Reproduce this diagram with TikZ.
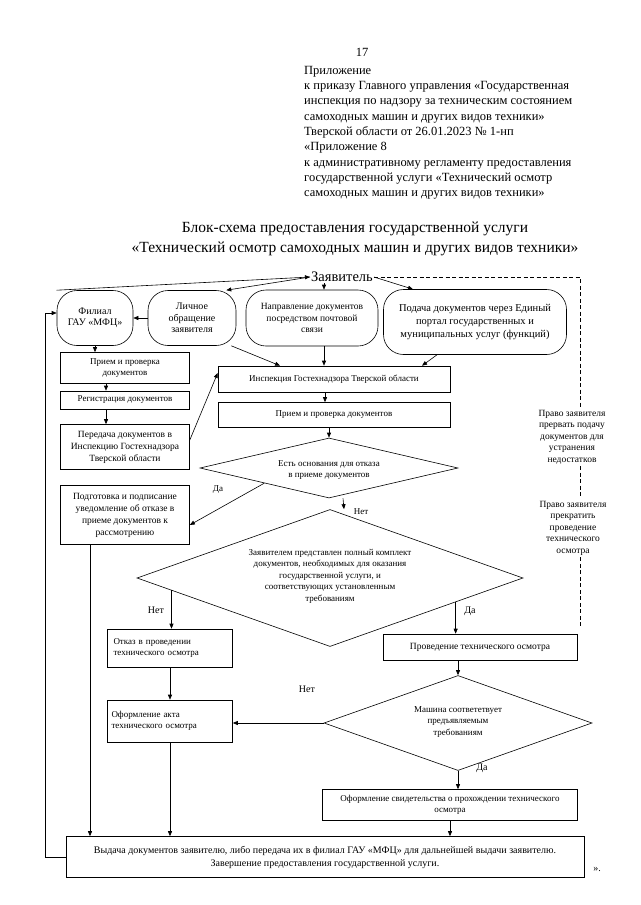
\documentclass[tikz,border=0pt]{standalone}
\usepackage{fontspec}
\setmainfont{Liberation Serif}
\usetikzlibrary{arrows.meta}
\usetikzlibrary{shapes.geometric}
\usetikzlibrary{calc}

\begin{document}
\begin{tikzpicture}
        [x=1pt, y=-1pt,
        box/.style = {draw, rectangle, line width=0.6pt, inner sep=1pt, align=center, font=\fontsize{9}{11}\selectfont},
        oval/.style = {draw, rectangle, rounded corners=20pt, line width=0.6pt, inner sep=1pt, align=center, font=\fontsize{9.5}{11.5}\selectfont},
        cond/.style = {draw, diamond, line width=0.6pt, inner sep=0pt},
        txt/.style = {align=center, inner sep=1pt, font=\fontsize{9}{11.5}\selectfont},
        side/.style = {align=center, inner sep=2pt, font=\fontsize{9.5}{11.5}\selectfont},
        lines/.style = {line width=0.6pt, -{Triangle[length=5pt, width=4pt]}},
        quit/.style = {line width=0.6pt, dash pattern=on 4pt off 2.5pt}]
        \useasboundingbox (0,0) rectangle (640,905);

        % header
        \node[font=\fontsize{12.5}{15}\selectfont] (pagenum) at (362,52) {17};
        \node[anchor=north west, align=left, inner sep=0pt, font=\fontsize{12.5}{15.3}\selectfont] (hdr) at (304,66)
            {Приложение\\к приказу Главного управления «Государственная\\инспекция по надзору за техническим состоянием\\самоходных машин и других видов техники»\\Тверской области от 26.01.2023 № 1-нп\\«Приложение 8\\к административному регламенту предоставления\\государственной услуги «Технический осмотр\\самоходных машин и других видов техники»};
        \node[align=center, font=\fontsize{15.5}{20}\selectfont] (title) at (355,239)
            {Блок-схема предоставления государственной услуги\\«Технический осмотр самоходных машин и других видов техники»};

        \node[inner sep=1pt, font=\fontsize{14.5}{16}\selectfont] (zayav) at (342,277) {Заявитель};

        % top row
        \node[oval, minimum width=76pt, minimum height=55pt, font=\fontsize{10}{11.5}\selectfont] (fil) at (95,318) {Филиал\\ГАУ «МФЦ»};
        \node[oval, minimum width=88pt, minimum height=55pt, font=\fontsize{10}{11.5}\selectfont] (lich) at (192,318) {Личное\\обращение\\заявителя};
        \node[oval, minimum width=132pt, minimum height=56pt] (pocht) at (312,318) {Направление документов\\посредством почтовой\\связи};
        \node[oval, minimum width=183pt, minimum height=65pt, font=\fontsize{10.5}{13}\selectfont] (epgu) at (475,322) {Подача документов через Единый\\портал государственных и\\муниципальных услуг (функций)};

        % left column
        \node[box, minimum width=129pt, minimum height=31pt] (priemL) at (125,368) {Прием и проверка\\документов};
        \node[box, minimum width=129pt, minimum height=18pt] (reg) at (125,400) {Регистрация документов};
        \node[box, minimum width=129pt, minimum height=45pt, font=\fontsize{9.5}{12}\selectfont] (pered) at (125,447) {Передача документов в\\Инспекцию Гостехнадзора\\Тверской области};
        \node[box, minimum width=129pt, minimum height=59pt, font=\fontsize{9.5}{12}\selectfont] (podg) at (125,515) {Подготовка и подписание\\уведомление об отказе в\\приеме документов к\\рассмотрению};

        % middle column
        \node[box, minimum width=232pt, minimum height=26pt] (insp) at (334,379) {Инспекция Гостехнадзора Тверской области};
        \node[box, minimum width=232pt, minimum height=25pt] (priemC) at (334,415) {Прием и проверка документов};
        \node[cond, minimum width=258pt, minimum height=60pt] (q1) at (329,468) {};
        \node[txt] (q1t) at (329,470) {Есть основания для отказа\\в приеме документов};
        \node[cond, minimum width=386pt, minimum height=137pt] (q2) at (330,578) {};
        \node[txt] (q2t) at (330,576) {Заявителем представлен полный комплект\\документов, необходимых для оказания\\государственной услуги, и\\соответствующих установленным\\требованиям};

        \node[box, align=left, text width=113pt, inner xsep=6pt, minimum height=38pt] (otkaz) at (170,648) {Отказ в проведении\\технического осмотра};
        \node[box, minimum width=194pt, minimum height=26pt, font=\fontsize{9.5}{11.5}\selectfont] (provod) at (480,647) {Проведение технического осмотра};
        \node[cond, minimum width=268pt, minimum height=95pt] (q3) at (458,723) {};
        \node[txt] (q3t) at (458,722) {Машина соответетвует\\предъявляемым\\требованиям};
        \node[box, align=left, text width=117pt, inner xsep=4pt, minimum height=42pt] (akt) at (170,721) {Оформление акта\\технического осмотра};
        \node[box, minimum width=255pt, minimum height=31pt] (svid) at (450,805) {Оформление свидетельства о прохождении технического\\осмотра};
        \node[box, minimum width=518pt, minimum height=41pt, font=\fontsize{10}{13}\selectfont] (vyd) at (325,857) {Выдача документов заявителю, либо передача их в филиал ГАУ «МФЦ» для дальнейшей выдачи заявителю.\\Завершение предоставления государственной услуги.};
        \node[inner sep=0pt, font=\fontsize{10}{12}\selectfont] (endq) at (597,869) {».};

        % right side
        \node[side] (pravo1) at (572,437) {Право заявителя\\прервать подачу\\документов для\\устранения\\недостатков};
        \node[side] (pravo2) at (573,528) {Право заявителя\\прекратить\\проведение\\технического\\осмотра};
        \coordinate (dtop) at (580,277);
        \coordinate (dend) at (580,627);

        % labels
        \node[txt] (yes1) at (218,490) {Да};
        \node[txt] (no1) at (361,512) {Нет};
        \node[txt, font=\fontsize{10}{12}\selectfont] (no2) at (156,610) {Нет};
        \node[txt, font=\fontsize{10}{12}\selectfont] (yes2) at (470,611) {Да};
        \node[txt, font=\fontsize{10}{12}\selectfont] (no3) at (307,689) {Нет};
        \node[txt, font=\fontsize{10}{12}\selectfont] (yes3) at (482,768) {Да};

        % connectors
        \draw[lines] (fil.north west) -- (zayav.west);
        \draw[lines] (zayav.west) -- ([xshift=-10pt]lich.north east);
        \draw[lines] ([xshift=-18pt]zayav.south) -- ([xshift=-18pt]zayav.south |- pocht.north);
        \draw[lines] (zayav.east) -- ([xshift=-62pt]epgu.north);
        \draw[quit] (zayav.east) -- (dtop) -- (pravo1.north -| dtop);
        \draw[quit] (pravo1.south -| dtop) -- (pravo2.north -| dtop);
        \draw[quit] (pravo2.south -| dtop) -- (dend);

        \draw[lines] (lich.west) -- (fil.east);
        \draw[lines] (fil.south) -- (fil.south |- priemL.north);
        \draw[lines] ([xshift=-19pt]priemL.south) -- ([xshift=-19pt]reg.north);
        \draw[lines] ([xshift=-19pt]reg.south) -- ([xshift=-19pt]pered.north);
        \draw[lines] ([yshift=7pt]pered.east) -- ([yshift=6pt]insp.west);
        \draw[lines] ([xshift=-5pt]lich.south east) -- ([xshift=-54pt]insp.north);
        \draw[lines] ([xshift=12pt]pocht.south) -- ([xshift=12pt]pocht.south |- insp.north);
        \draw[lines] ([xshift=-38pt]epgu.south) -- ([xshift=88pt]insp.north);
        \draw[lines] ([xshift=-9pt]insp.south) -- ([xshift=-9pt]priemC.north);
        \draw[lines] (q1.north |- priemC.south) -- (q1.north);

        \draw[lines] (q1.south west) -- ([yshift=-10pt]podg.east);
        \draw[lines] ([xshift=14pt]q1.south) -- ([xshift=14pt]q2.north);
        \draw[lines] ($(q2.west)!0.18!(q2.south)$) coordinate (q2l) -- (q2l |- otkaz.north);
        \draw[lines] ($(q2.east)!0.35!(q2.south)$) coordinate (q2r) -- (q2r |- provod.north);
        \draw[lines] (q3.north |- provod.south) -- (q3.north);
        \draw[lines] (q3.west) -- (q3.west -| akt.east);
        \draw[lines] (q3.south) -- (q3.south |- svid.north);
        \draw[lines] (otkaz.south) -- (akt.north);

        \draw[lines] (akt.south) -- (akt.south |- vyd.north);
        \draw[lines] ([xshift=-35pt]podg.south) -- ([xshift=-35pt]podg.south |- vyd.north);
        \draw[lines] (svid.south) -- (svid.south |- vyd.north);
        \draw[lines] (vyd.west) -- ++(-20,0) |- ([yshift=5pt]fil.west);

    \end{tikzpicture}
\end{document}
